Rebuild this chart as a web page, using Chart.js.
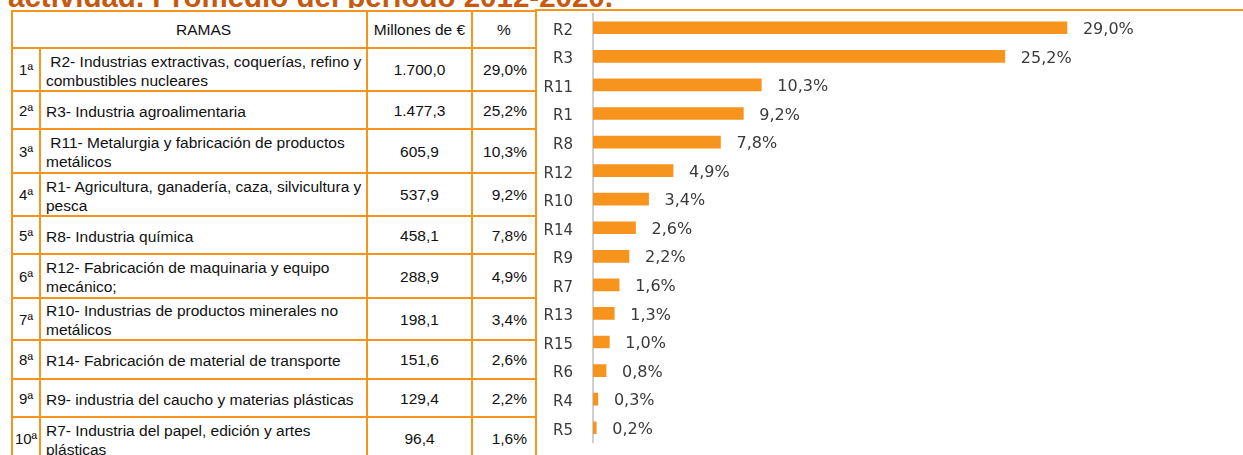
<!DOCTYPE html>
<html lang="es">
<head>
<meta charset="utf-8">
<title>Ramas de actividad</title>
<script src="https://cdn.jsdelivr.net/npm/chart.js@4.4.1/dist/chart.umd.min.js"></script>
<style>
  html, body { margin: 0; padding: 0; background: #fff; }
  body { width: 1243px; height: 455px; overflow: hidden; position: relative; }
  #titulo {
    position: absolute; left: 0; top: 0; width: 700px; height: 7.5px; overflow: hidden;
  }
  #titulo span {
    position: absolute; left: 8px; top: -18.5px; white-space: nowrap;
    font: bold 29.5px "Liberation Sans", Arial, sans-serif; line-height: 1; color: #c55a11;
  }
  #caja {
    position: absolute; left: 535px; top: 8.5px; width: 800px; height: 460px;
    border-top: 2px solid #f7941d; border-left: 2px solid #f7941d; background: #fff;
  }
  #grafico { position: absolute; left: 538px; top: 11px; }
  #tabla {
    position: absolute; left: 11px; top: 10px; border-collapse: collapse; table-layout: fixed;
    font-family: "Liberation Sans", Arial, sans-serif; font-size: 15.5px; color: #111;
    background: #fff;
  }
  #tabla td { border: 2px solid #f7941d; padding: 0; vertical-align: middle; line-height: 19px; }
  #tabla td.rk { text-align: center; font-size: 15px; }
  #tabla td.tx { text-align: left; padding-left: 5px; padding-top: 2px; white-space: pre-line; }
  #tabla td.mi { text-align: center; }
  #tabla td.pc { text-align: right; padding-right: 8px; }
  #tabla td.hd { text-align: center; }
</style>
</head>
<body>
<div id="titulo"><span>actividad. Promedio del periodo 2012-2020.</span></div>
<table id="tabla">
  <colgroup><col style="width:28px"><col style="width:327px"><col style="width:105px"><col style="width:64px"></colgroup>
  <tbody id="cuerpo"></tbody>
</table>
<div id="caja"></div>
<canvas id="grafico" width="705" height="444"></canvas>
<script>
// tabla: las 10 primeras ramas
const puestos = ["1ª", "2ª", "3ª", "4ª", "5ª", "6ª", "7ª", "8ª", "9ª", "10ª"];
const ramas = [
  "\u00a0R2- Industrias extractivas, coquerías, refino y\ncombustibles nucleares",
  "R3- Industria agroalimentaria",
  "\u00a0R11- Metalurgia y fabricación de productos\nmetálicos",
  "R1- Agricultura, ganadería, caza, silvicultura y\npesca",
  "R8- Industria química",
  "R12- Fabricación de maquinaria y equipo\nmecánico;",
  "R10- Industrias de productos minerales no\nmetálicos",
  "R14- Fabricación de material de transporte",
  "R9- industria del caucho y materias plásticas",
  "R7- Industria del papel, edición y artes\nplásticas"
];
const millones = [1700.0, 1477.3, 605.9, 537.9, 458.1, 288.9, 198.1, 151.6, 129.4, 96.4];
const porcentajes = [29.0, 25.2, 10.3, 9.2, 7.8, 4.9, 3.4, 2.6, 2.2, 1.6];
const altoFilas = [37, 43, 38, 44, 43, 38, 44, 42, 39, 38, 43];

// grafico: todas las ramas
const categorias = ["R2", "R3", "R11", "R1", "R8", "R12", "R10", "R14", "R9", "R7", "R13", "R15", "R6", "R4", "R5"];
const valores = [29.0, 25.2, 10.3, 9.2, 7.8, 4.9, 3.4, 2.6, 2.2, 1.6, 1.3, 1.0, 0.8, 0.3, 0.2];

const naranja = "#f7941d";

function formatoEs(v) {
  let partes = v.toFixed(1).split(".");
  let entero = partes[0].replace(/\B(?=(\d{3})+(?!\d))/g, ".");
  return entero + "," + partes[1];
}

///////////////////////////////////////////

function montarTabla() {
  const cuerpo = document.getElementById("cuerpo");
  let cab = document.createElement("tr");
  cab.style.height = altoFilas[0] + "px";
  cab.innerHTML = '<td class="hd" colspan="2" style="padding-left:28px">RAMAS</td>' +
    '<td class="hd">Millones de €</td><td class="hd">%</td>';
  cuerpo.appendChild(cab);
  for (let i = 0; i < puestos.length; i++) {
    let tr = document.createElement("tr");
    tr.style.height = altoFilas[i + 1] + "px";
    let celdas = [
      ["rk", puestos[i]],
      ["tx", ramas[i]],
      ["mi", formatoEs(millones[i])],
      ["pc", formatoEs(porcentajes[i]) + "%"]
    ];
    for (let c of celdas) {
      let td = document.createElement("td");
      td.className = c[0];
      td.textContent = c[1];
      tr.appendChild(td);
    }
    cuerpo.appendChild(tr);
  }
}

montarTabla();

///////////////////////////////////////////

// etiquetas de valor al final de cada barra
const etiquetasBarras = {
  id: "etiquetasBarras",
  afterDatasetsDraw(chart) {
    const ctx = chart.ctx;
    const meta = chart.getDatasetMeta(0);
    ctx.save();
    ctx.font = "16px 'DejaVu Sans'";
    ctx.fillStyle = "#3a3a3a";
    ctx.textAlign = "left";
    ctx.textBaseline = "middle";
    meta.data.forEach(function(barra, i) {
      ctx.fillText(formatoEs(valores[i]) + "%", barra.x + 16, barra.y + 2);
    });
    ctx.restore();
  }
};

const graficoConfig = {
  type: "bar",
  data: {
    labels: categorias,
    datasets: [{
      data: valores,
      backgroundColor: naranja,
      borderWidth: 0,
      barThickness: 12
    }]
  },
  options: {
    indexAxis: "y",
    responsive: false,
    animation: false,
    layout: { padding: { top: 2.5, bottom: 13, right: 78, left: 0 } },
    plugins: { legend: { display: false }, tooltip: { enabled: false } },
    scales: {
      x: { display: false, min: 0, max: 35 },
      y: {
        grid: { display: false, drawTicks: false },
        border: { display: true, color: "#d0d0d0", width: 2 },
        ticks: { color: "#3a3a3a", font: { family: "DejaVu Sans", size: 15 }, padding: 20, labelOffset: 3 },
        afterFit: function(scale) {
          // el padding de las etiquetas no debe encoger el area
          scale.width = 55;
          scale.paddingTop = 0;
          scale.paddingBottom = 0;
        }
      }
    }
  },
  plugins: [etiquetasBarras]
};

const grafico = new Chart(document.getElementById("grafico"), graficoConfig);
</script>
</body>
</html>
